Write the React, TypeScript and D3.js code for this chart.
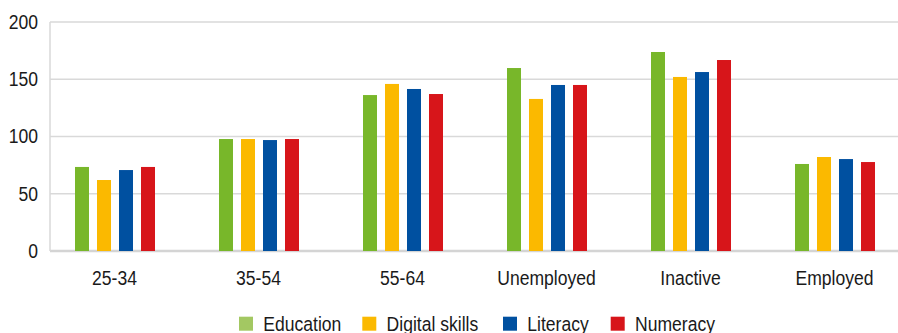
import React from "react";
import * as d3 from "d3";

const categories = ["25-34", "35-54", "55-64", "Unemployed", "Inactive", "Employed"];
const seriesNames = ["Education", "Digital skills", "Literacy", "Numeracy"];
const education = [73.4, 97.8, 136.2, 159.8, 173.8, 76];
const digitalSkills = [62, 97.8, 145.9, 132.8, 152, 82.1];
const literacy = [70.7, 96.9, 141.5, 145, 156.3, 80.3];
const numeracy = [73.4, 97.8, 137.1, 145, 166.8, 77.7];
const yTicks = [0, 50, 100, 150, 200];

const barColors = ["#78b72a", "#fbb900", "#0050a0", "#d7151a"];
const legendColors = ["#a3c862", "#fbb900", "#0050a0", "#d7151a"];

const W = 898;
const H = 333;
const FONT = "'Liberation Sans', Arial, sans-serif";
const SX = 0.9;

function CText({ x, y, anchor, size, children }: any) {
  return (
    <text
      transform={`translate(${x},${y}) scale(${SX},1)`}
      textAnchor={anchor}
      fontFamily={FONT}
      fontSize={size}
      fill="#1a1a1a"
    >
      {children}
    </text>
  );
}

export default function App() {
  const series = [education, digitalSkills, literacy, numeracy];
  const x0 = d3.scaleBand<string>().domain(categories).range([42.5, 906.5]).padding(0);
  const x1 = d3
    .scaleBand<string>()
    .domain(seriesNames)
    .range([32.5, 112.5])
    .paddingInner(4 - 80 / 22)
    .paddingOuter(0);
  const y = d3.scaleLinear().domain([0, 200]).range([251, 22]);
  const plotLeft = 50;
  const plotRight = 898;

  const legendX = [239, 362.3, 503, 610.7];

  return (
    <div style={{ position: "absolute", left: 0, top: 0, margin: 0 }}>
      <svg width={W} height={H} style={{ display: "block", background: "#fff" }}>
        {yTicks.map((t) => (
          <line
            key={"g" + t}
            x1={plotLeft}
            x2={plotRight}
            y1={y(t)}
            y2={y(t)}
            stroke={t === 0 ? "#d4d4d4" : "#d9d9d9"}
            strokeWidth={t === 0 ? 2.5 : 1.5}
          />
        ))}
        <line x1={plotLeft} x2={plotLeft} y1={y(200)} y2={y(0)} stroke="#d9d9d9" strokeWidth={1.5} />
        {yTicks.map((t) => (
          <CText key={"t" + t} x={38} y={y(t) + 6.8} anchor="end" size={19.5}>
            {t}
          </CText>
        ))}
        {categories.map((c, i) => (
          <g key={c} transform={`translate(${x0(c)},0)`}>
            {series.map((s, j) => (
              <rect
                key={j}
                x={x1(seriesNames[j]) as number}
                width={x1.bandwidth()}
                y={y(s[i])}
                height={y(0) - y(s[i])}
                fill={barColors[j]}
              />
            ))}
            <CText x={72} y={285} anchor="middle" size={19.5}>
              {c}
            </CText>
          </g>
        ))}
        {seriesNames.map((n, j) => (
          <g key={n} transform={`translate(${legendX[j]},0)`}>
            <rect x={0} y={316.7} width={14} height={14} fill={legendColors[j]} />
            <CText x={24.3} y={330.5} anchor="start" size={19.5}>
              {n}
            </CText>
          </g>
        ))}
      </svg>
    </div>
  );
}
